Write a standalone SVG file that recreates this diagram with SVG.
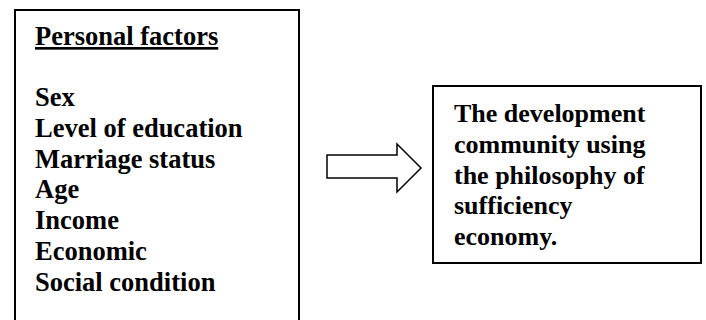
<svg xmlns="http://www.w3.org/2000/svg" width="706" height="320" viewBox="0 0 706 320">
<style>
.box{fill:#fff;stroke:#000;stroke-width:2}
.t{font-family:"Liberation Serif","Times New Roman",serif;font-weight:bold;font-size:26.5px;fill:#000}
.r{font-size:26px}
.arrow{fill:#fff;stroke:#000;stroke-width:1.5;stroke-linejoin:miter}
</style>
<rect width="706" height="320" fill="#fff"/>
<g id="personal-factors">
<rect class="box" x="15" y="10" width="284" height="314"/>
<text class="t" x="35" y="45" text-decoration="underline">Personal factors</text>
<text class="t" x="35" y="106">Sex</text>
<text class="t" x="35" y="136.8">Level of education</text>
<text class="t" x="35" y="167.6">Marriage status</text>
<text class="t" x="35" y="198.4">Age</text>
<text class="t" x="35" y="229.2">Income</text>
<text class="t" x="35" y="260">Economic</text>
<text class="t" x="35" y="290.8">Social condition</text>
</g>
<g id="connectors">
<polygon class="arrow" points="327,155 397,155 397,144 421,168 397,192 397,178 327,178"/>
</g>
<g id="development-community">
<rect class="box" x="433" y="86" width="268" height="177"/>
<text class="t r" x="454" y="122">The development</text>
<text class="t r" x="454" y="152.8">community using</text>
<text class="t r" x="454" y="183.6">the philosophy of</text>
<text class="t r" x="454" y="214.4">sufficiency</text>
<text class="t r" x="454" y="245.2">economy.</text>
</g>
</svg>
